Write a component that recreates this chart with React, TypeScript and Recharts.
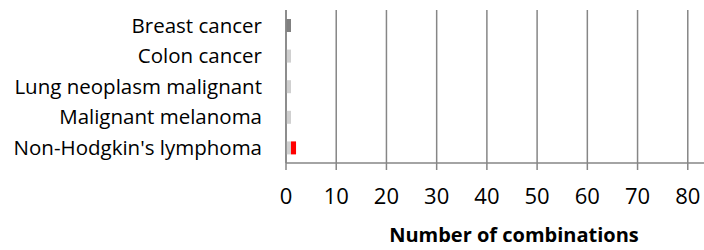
import React from 'react';
import { BarChart, Bar, XAxis, YAxis, CartesianGrid } from 'recharts';

const categories = [
  'Breast cancer',
  'Colon cancer',
  'Lung neoplasm malignant',
  'Malignant melanoma',
  "Non-Hodgkin's lymphoma",
];
const darkValues = [1, 0, 0, 0, 0];
const lightValues = [0, 1, 1, 1, 1];
const redValues = [0, 0, 0, 0, 1];
const xTicks = [0, 10, 20, 30, 40, 50, 60, 70, 80];
const bandTicks = [0, 1, 2, 3, 4, 5];

const data = categories.map((name, i) => ({
  name,
  dark: darkValues[i],
  light: lightValues[i],
  red: redValues[i],
}));

const FONT = '"Open Sans", Lato, sans-serif';
const AXIS = '#868686';

// axis title sits a little right of the plot centre, like the original
const AxisTitle = (props: any) => {
  const vb = props.viewBox || {};
  return (
    <text
      x={vb.x + vb.width / 2 + 2}
      y={vb.y + vb.height - 8}
      textAnchor="middle"
      fontFamily={FONT}
      fontWeight="bold"
      fontSize={20}
      fill="#000"
    >
      Number of combinations
    </text>
  );
};

const App: React.FC = () => {
  return (
    <div style={{ position: 'absolute', left: 0, top: 0, width: 704, height: 250, overflow: 'hidden', background: '#fff' }}>
      <BarChart
        width={760}
        height={250}
        data={data}
        layout="vertical"
        barSize={13}
        margin={{ top: 10, right: 22, bottom: 0, left: 0 }}
      >
        <CartesianGrid horizontal={false} stroke={AXIS} strokeWidth={1.5} />
        <XAxis
          type="number"
          domain={[0, 90]}
          ticks={xTicks}
          interval={0}
          height={87}
          stroke={AXIS}
          axisLine={{ stroke: AXIS, strokeWidth: 1.5 }}
          tickLine={{ stroke: AXIS, strokeWidth: 1.5 }}
          tickSize={7}
          tickMargin={18}
          tick={{ fill: '#000', fontSize: 22, fontFamily: FONT }}
          label={<AxisTitle />}
        />
        <YAxis
          yAxisId="cat"
          type="category"
          dataKey="name"
          width={286}
          axisLine={{ stroke: AXIS, strokeWidth: 1.5 }}
          tickLine={false}
          tickSize={0}
          tickMargin={24}
          tick={{ fill: '#000', fontSize: 20.5, fontFamily: FONT }}
        />
        <YAxis
          yAxisId="band"
          type="number"
          domain={[0, 5]}
          ticks={bandTicks}
          width={0}
          axisLine={false}
          tickLine={{ stroke: AXIS, strokeWidth: 1.5 }}
          tickSize={7}
          tickFormatter={() => ''}
        />
        <Bar yAxisId="cat" dataKey="dark" stackId="a" fill="#808080" isAnimationActive={false} />
        <Bar yAxisId="cat" dataKey="light" stackId="a" fill="#d0d0d0" isAnimationActive={false} />
        <Bar yAxisId="cat" dataKey="red" stackId="a" fill="#ff0000" isAnimationActive={false} />
      </BarChart>
    </div>
  );
};

export default App;
